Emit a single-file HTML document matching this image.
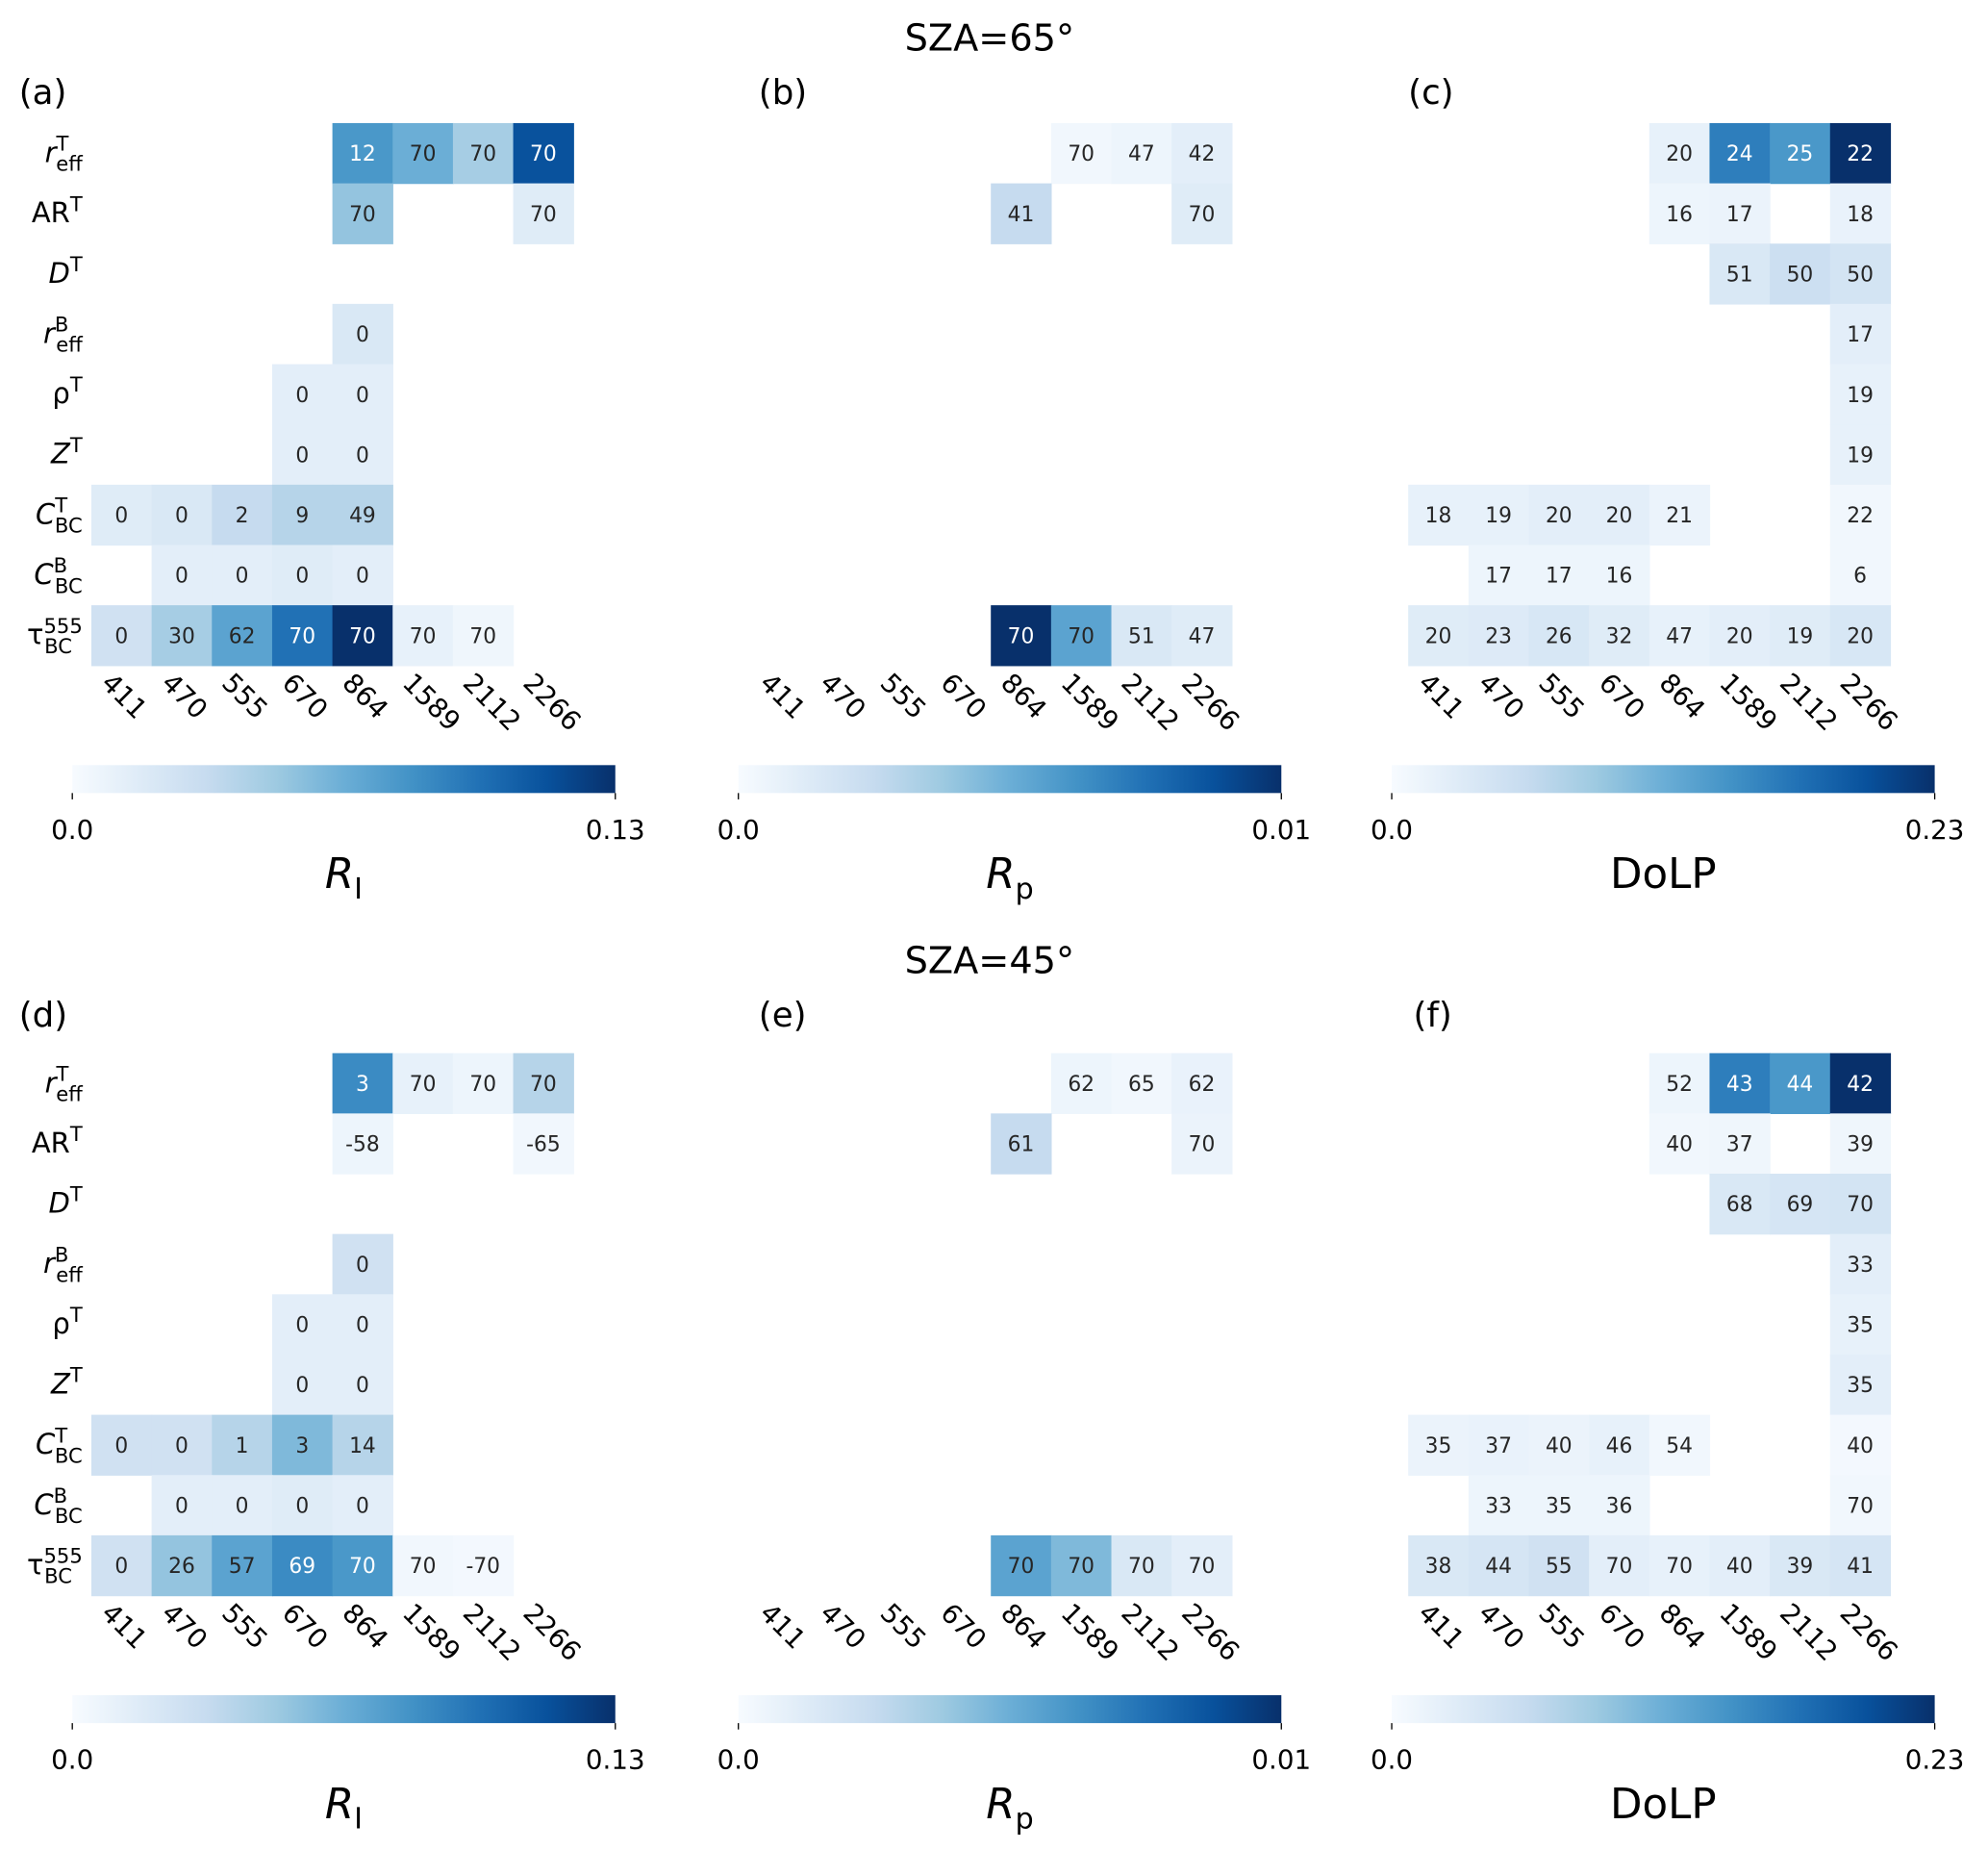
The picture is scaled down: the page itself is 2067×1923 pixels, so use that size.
<!DOCTYPE html>
<html><head><meta charset="utf-8"><style>
html,body{margin:0;padding:0;background:#fff;}
svg{display:block;font-family:"DejaVu Sans","Liberation Sans",sans-serif;}
</style></head><body>
<svg id="fig" width="2067" height="1923" viewBox="0 0 1567 1458" preserveAspectRatio="none" xmlns="http://www.w3.org/2000/svg">
<defs>
<linearGradient id="blues" x1="0" x2="1" y1="0" y2="0">
<stop offset="0" stop-color="#f7fbff"/><stop offset="0.125" stop-color="#deebf7"/><stop offset="0.25" stop-color="#c6dbef"/><stop offset="0.375" stop-color="#9ecae1"/><stop offset="0.5" stop-color="#6baed6"/><stop offset="0.625" stop-color="#4292c6"/><stop offset="0.75" stop-color="#2171b5"/><stop offset="0.875" stop-color="#08519c"/><stop offset="1" stop-color="#08306b"/>
</linearGradient>
</defs>
<text x="780" y="40" font-size="29" text-anchor="middle">SZA=65°</text>
<text x="780" y="767" font-size="29" text-anchor="middle">SZA=45°</text>
</svg>
<script>
const wavelengths = ["411","470","555","670","864","1589","2112","2266"];
// color fraction (0..1) of each cell; null = empty
const colorA = [[null,null,null,null,.6,.5,.35,.87],[null,null,null,null,.4,null,null,.12],[null,null,null,null,null,null,null,null],[null,null,null,null,.15,null,null,null],[null,null,null,.1,.1,null,null,null],[null,null,null,.1,.1,null,null,null],[.12,.15,.25,.3,.3,null,null,null],[null,.1,.1,.12,.1,null,null,null],[.2,.35,.55,.75,1,.08,.04,null]];
const annotA = [[null,null,null,null,"12","70","70","70"],[null,null,null,null,"70",null,null,"70"],[],[null,null,null,null,"0"],[null,null,null,"0","0"],[null,null,null,"0","0"],["0","0","2","9","49"],[null,"0","0","0","0"],["0","30","62","70","70","70","70"]];
const colorB = [[null,null,null,null,null,.03,.05,.1],[null,null,null,null,.25,null,null,.12],[],[],[],[],[],[],[null,null,null,null,1,.55,.15,.12]];
const annotB = [[null,null,null,null,null,"70","47","42"],[null,null,null,null,"41",null,null,"70"],[],[],[],[],[],[],[null,null,null,null,"70","70","51","47"]];
const colorC = [[null,null,null,null,.08,.7,.6,1],[null,null,null,null,.05,.06,null,.07],[null,null,null,null,null,.15,.22,.18],[null,null,null,null,null,null,null,.1],[null,null,null,null,null,null,null,.08],[null,null,null,null,null,null,null,.08],[.08,.08,.1,.1,.06,null,null,.03],[null,.05,.05,.05,null,null,null,.03],[.12,.13,.16,.12,.08,.1,.12,.16]];
const annotC = [[null,null,null,null,"20","24","25","22"],[null,null,null,null,"16","17",null,"18"],[null,null,null,null,null,"51","50","50"],[null,null,null,null,null,null,null,"17"],[null,null,null,null,null,null,null,"19"],[null,null,null,null,null,null,null,"19"],["18","19","20","20","21",null,null,"22"],[null,"17","17","16",null,null,null,"6"],["20","23","26","32","47","20","19","20"]];
const colorD = [[null,null,null,null,.65,.08,.05,.3],[null,null,null,null,.05,null,null,.03],[],[null,null,null,null,.2],[null,null,null,.1,.1],[null,null,null,.1,.1],[.2,.2,.3,.45,.3],[null,.1,.1,.12,.1],[.2,.4,.55,.65,.6,.03,.02]];
const annotD = [[null,null,null,null,"3","70","70","70"],[null,null,null,null,"-58",null,null,"-65"],[],[null,null,null,null,"0"],[null,null,null,"0","0"],[null,null,null,"0","0"],["0","0","1","3","14"],[null,"0","0","0","0"],["0","26","57","69","70","70","-70"]];
const colorE = [[null,null,null,null,null,.05,.03,.07],[null,null,null,null,.25,null,null,.06],[],[],[],[],[],[],[null,null,null,null,.55,.45,.15,.1]];
const annotE = [[null,null,null,null,null,"62","65","62"],[null,null,null,null,"61",null,null,"70"],[],[],[],[],[],[],[null,null,null,null,"70","70","70","70"]];
const colorF = [[null,null,null,null,.05,.7,.6,1],[null,null,null,null,.03,.04,null,.04],[null,null,null,null,null,.15,.17,.18],[null,null,null,null,null,null,null,.1],[null,null,null,null,null,null,null,.08],[null,null,null,null,null,null,null,.1],[.06,.07,.06,.08,.03,null,null,.02],[null,.05,.05,.05,null,null,null,.03],[.15,.17,.2,.1,.08,.1,.15,.17]];
const annotF = [[null,null,null,null,"52","43","44","42"],[null,null,null,null,"40","37",null,"39"],[null,null,null,null,null,"68","69","70"],[null,null,null,null,null,null,null,"33"],[null,null,null,null,null,null,null,"35"],[null,null,null,null,null,null,null,"35"],["35","37","40","46","54",null,null,"40"],[null,"33","35","36",null,null,null,"70"],["38","44","55","70","70","40","39","41"]];
const cbarMax = ["0.13","0.01","0.23"];

const NS="http://www.w3.org/2000/svg", svg=document.getElementById('fig');
const stops=[[247,251,255],[222,235,247],[198,219,239],[158,202,225],[107,174,214],[66,146,198],[33,113,181],[8,81,156],[8,48,107]];
function cmap(v){v=Math.max(0,Math.min(1,v));const t=v*8,i=Math.min(7,Math.floor(t)),f=t-i;const a=stops[i],b=stops[i+1];return `rgb(${a.map((c,k)=>Math.round(c+(b[k]-c)*f)).join(',')})`;}
function el(tag,attrs,parent){const e=document.createElementNS(NS,tag);for(const k in attrs)e.setAttribute(k,attrs[k]);(parent||svg).appendChild(e);return e;}
const CW=47.5, CH=47.5;
const rowLabels=[["r","T","eff"],["AR","T",""],["D","T",""],["r","B","eff"],["ρ","T",""],["Z","T",""],["C","T","BC"],["C","B","BC"],["τ","555","BC"]];
const panels=[
 {id:"a",x:72,y:97,c:colorA,t:annotA,lab:"(a)",lx:15,ly:82,cb:0,rows:true,cbx:57,cbl:["R","I"]},
 {id:"b",x:591,y:97,c:colorB,t:annotB,lab:"(b)",lx:598,ly:82,cb:1,rows:false,cbx:582,cbl:["R","p"]},
 {id:"c",x:1110,y:97,c:colorC,t:annotC,lab:"(c)",lx:1110,ly:82,cb:2,rows:false,cbx:1097,cbl:["DoLP",""]},
 {id:"d",x:72,y:830,c:colorD,t:annotD,lab:"(d)",lx:15,ly:809,cb:0,rows:true,cbx:57,cbl:["R","I"]},
 {id:"e",x:591,y:830,c:colorE,t:annotE,lab:"(e)",lx:598,ly:809,cb:1,rows:false,cbx:582,cbl:["R","p"]},
 {id:"f",x:1110,y:830,c:colorF,t:annotF,lab:"(f)",lx:1114,ly:809,cb:2,rows:false,cbx:1097,cbl:["DoLP",""]}];
panels.forEach(p=>{
 const g=el('g',{});
 
 
 const lt=el('text',{x:p.lx,y:p.ly,'font-size':27},g);lt.textContent=p.lab;
 
 
 for(let r=0;r<9;r++){for(let c=0;c<8;c++){
  const v=(p.c[r]||[])[c];
  if(v===null||v===undefined)continue;
  const rc=el('rect',{x:p.x+c*CW,y:p.y+r*CH,width:CW+0.5,height:CH+0.5,fill:cmap(v)},g);
  
  
  const a=(p.t[r]||[])[c];
  if(a!=null){const tx=el('text',{x:p.x+c*CW+CW/2,y:p.y+r*CH+CH/2+6,'font-size':16.5,'text-anchor':'middle',fill:v>0.55?'#fff':'#262626'},g);tx.textContent=a;
   
   }
 }}
 if(p.rows){rowLabels.forEach((L,r)=>{
  const y=p.y+r*CH+CH/2+7;
  const t=el('text',{x:65,y:y,'font-size':22,'text-anchor':'end'},g);
  
  
  const it=(L[0]!=="AR");
  const s1=el('tspan',{'font-style':it&&L[0]!=="τ"&&L[0]!=="ρ"?'italic':'normal'},t);s1.textContent=L[0];
  const s2=el('tspan',{'font-size':16,dy:-9},t);s2.textContent=L[1];
  if(L[2]){const s3=el('tspan',{'font-size':16,dy:16,dx:-(L[1].length*10)},t);s3.textContent=L[2];}
 });}
 wavelengths.forEach((w,c)=>{
  const x=p.x+c*CW+CW/2-17, y=p.y+9*CH+15;
  const t=el('text',{x:x,y:y,'font-size':21,transform:`rotate(45 ${x} ${y})`},g);t.textContent=w;
  
  
 });
 const cby=p.y+506;
 const cb=el('rect',{x:p.cbx,y:cby,width:428,height:22,fill:'url(#blues)'},g);
 
 
 el('line',{x1:p.cbx,x2:p.cbx,y1:cby+22,y2:cby+27,stroke:'#000'},g);
 el('line',{x1:p.cbx+428,x2:p.cbx+428,y1:cby+22,y2:cby+27,stroke:'#000'},g);
 const t0=el('text',{x:p.cbx,y:cby+58,'font-size':21,'text-anchor':'middle'},g);t0.textContent="0.0";
 
 
 const t1=el('text',{x:p.cbx+428,y:cby+58,'font-size':21,'text-anchor':'middle'},g);t1.textContent=cbarMax[p.cb];
 
 
 const cl=el('text',{x:p.cbx+214,y:cby+97,'font-size':33,'text-anchor':'middle'},g);
 
 
 if(p.cbl[1]){const a=el('tspan',{'font-style':'italic'},cl);a.textContent=p.cbl[0];const b=el('tspan',{'font-size':23,dy:8},cl);b.textContent=p.cbl[1];}
 else cl.textContent=p.cbl[0];
});
</script>
</body></html>
